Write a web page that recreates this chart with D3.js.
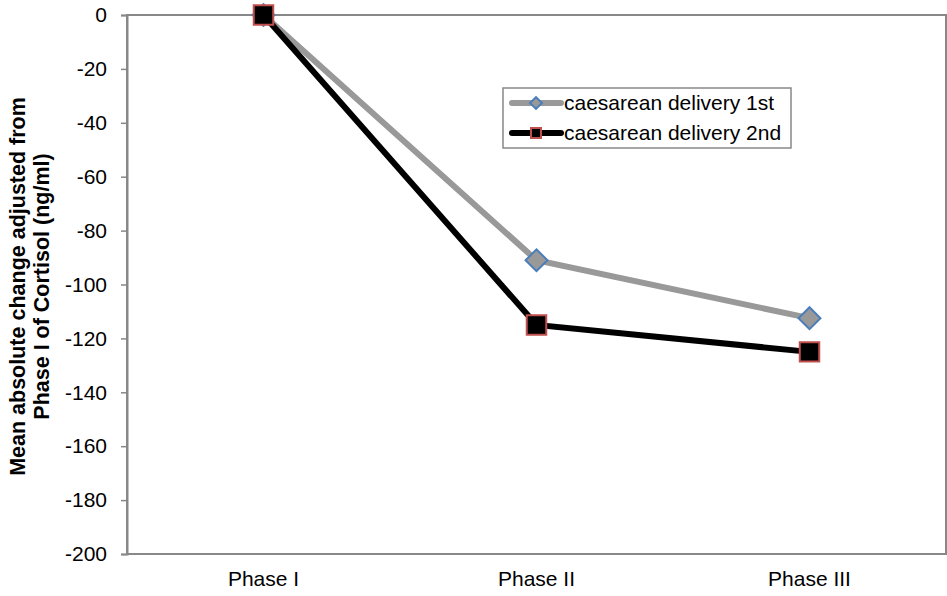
<!DOCTYPE html>
<html>
<head>
<meta charset="utf-8">
<script src="https://cdn.jsdelivr.net/npm/d3@7"></script>
<style>
  body { margin: 0; background: #fff; }
  text { font-family: "Liberation Sans", Arial, sans-serif; }
</style>
</head>
<body>
<div id="chart"></div>
<script>
const categories = ["Phase I", "Phase II", "Phase III"];
const first = [0, -91, -112.5];
const second = [0, -115, -125];
const seriesNames = ["caesarean delivery 1st", "caesarean delivery 2nd"];
const yTicks = [0, -20, -40, -60, -80, -100, -120, -140, -160, -180, -200];

const w = 947, h = 596;
const margin = { left: 127, top: 15, right: 1, bottom: 42 };
const fontSize = 21;

const svg = d3.select("#chart").append("svg")
  .attr("width", w)
  .attr("height", h);

const x = d3.scaleBand()
  .domain(categories)
  .range([margin.left, w - margin.right]);

const y = d3.scaleLinear()
  .domain([-200, 0])
  .range([h - margin.bottom, margin.top]);

// plot box
svg.append("rect")
  .attr("x", margin.left)
  .attr("y", margin.top)
  .attr("width", w - margin.right - margin.left)
  .attr("height", h - margin.bottom - margin.top)
  .attr("fill", "none")
  .attr("stroke", "#888")
  .attr("stroke-width", 2);

const yAxis = d3.axisLeft(y)
  .tickValues(yTicks)
  .tickFormat(d => String(d))
  .tickSize(6)
  .tickPadding(14);

const gy = svg.append("g")
  .attr("transform", `translate(${margin.left},0)`)
  .call(yAxis);
gy.attr("font-size", fontSize).attr("font-family", null);
gy.select(".domain").attr("stroke", "#888").attr("stroke-width", 2);
gy.selectAll(".tick line").attr("stroke", "#888").attr("stroke-width", 1.5);
gy.selectAll(".tick text").attr("fill", "#000");

const xAxis = d3.axisBottom(x).tickSize(0).tickPadding(17);
const gx = svg.append("g")
  .attr("transform", `translate(0,${h - margin.bottom})`)
  .call(xAxis);
gx.attr("font-size", fontSize).attr("font-family", null);
gx.select(".domain").remove();
gx.selectAll(".tick text").attr("fill", "#000");

// y title
const title = svg.append("text")
  .attr("transform", `translate(25,${(margin.top + h - margin.bottom) / 2 + 2}) rotate(-90)`)
  .attr("text-anchor", "middle")
  .attr("font-size", 21.5)
  .attr("font-weight", "bold");
title.append("tspan").attr("x", 0).attr("dy", 0).text("Mean absolute change adjusted from");
title.append("tspan").attr("x", 0).attr("dy", 24).text("Phase I of Cortisol (ng/ml)");

const cx = d => x(d) + x.bandwidth() / 2;
const line = d3.line()
  .x((d, i) => cx(categories[i]))
  .y(d => y(d));

svg.append("path")
  .datum(first)
  .attr("d", line)
  .attr("fill", "none")
  .attr("stroke", "#999")
  .attr("stroke-width", 6);

svg.append("path")
  .datum(second)
  .attr("d", line)
  .attr("fill", "none")
  .attr("stroke", "#000")
  .attr("stroke-width", 6);

function drawDiamond(g, px, py, s) {
  g.append("path")
    .attr("d", d3.symbol().type(d3.symbolSquare).size(s)())
    .attr("transform", `translate(${px},${py}) rotate(45)`)
    .attr("fill", "#999")
    .attr("stroke", "#4a7ebb")
    .attr("stroke-width", 2);
}
function drawSquare(g, px, py, s) {
  g.append("path")
    .attr("d", d3.symbol().type(d3.symbolSquare).size(s)())
    .attr("transform", `translate(${px},${py})`)
    .attr("fill", "#000")
    .attr("stroke", "#c0504d")
    .attr("stroke-width", 2);
}

first.forEach((v, i) => drawDiamond(svg, cx(categories[i]), y(v), 240));
second.forEach((v, i) => drawSquare(svg, cx(categories[i]), y(v), 380));

// legend
const lg = svg.append("g").attr("transform", "translate(503,88)");
lg.append("rect")
  .attr("width", 288)
  .attr("height", 60)
  .attr("fill", "#fff")
  .attr("stroke", "#888")
  .attr("stroke-width", 1.5);

const rows = [
  { color: "#999", marker: drawDiamond, size: 70 },
  { color: "#000", marker: drawSquare, size: 100 }
];
rows.forEach((r, i) => {
  const ry = 15 + i * 30;
  lg.append("line")
    .attr("x1", 9).attr("x2", 58)
    .attr("y1", ry).attr("y2", ry)
    .attr("stroke", r.color)
    .attr("stroke-width", 6)
    .attr("stroke-linecap", "round");
  r.marker(lg, 33, ry, r.size);
  lg.append("text")
    .attr("x", 61)
    .attr("y", ry + 7)
    .attr("font-size", fontSize)
    .text(seriesNames[i]);
});
</script>
</body>
</html>
